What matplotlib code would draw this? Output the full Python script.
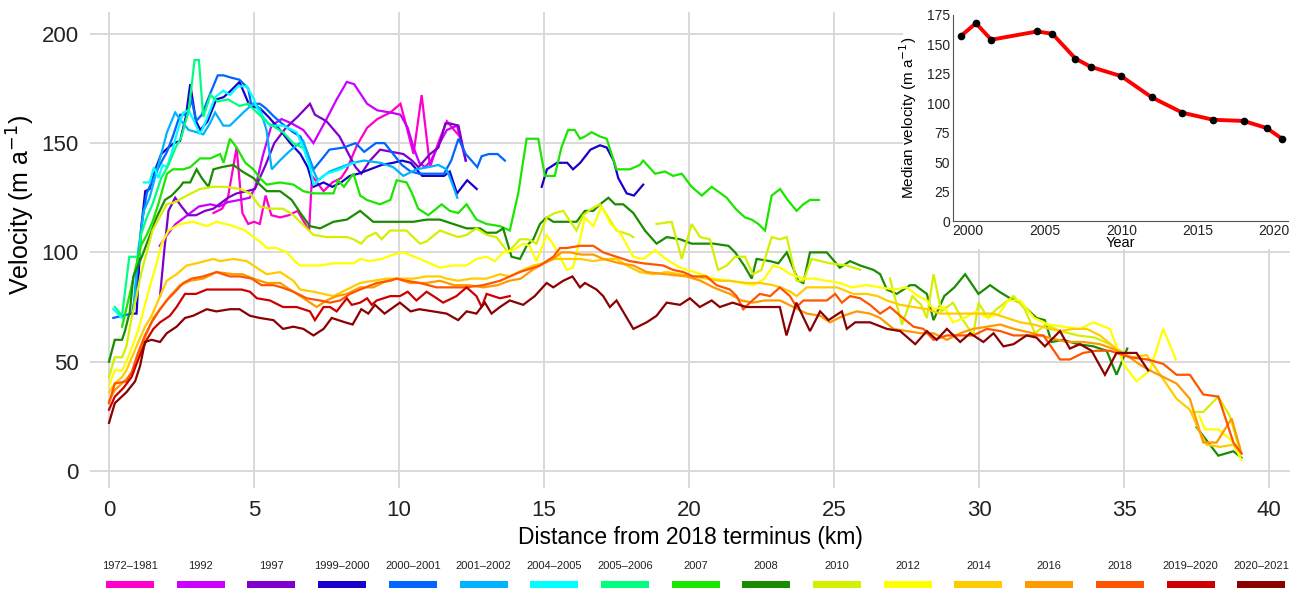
import numpy as np
import matplotlib
matplotlib.use("Agg")
import matplotlib.pyplot as plt
from matplotlib.patches import Rectangle

plt.rcParams['font.family'] = ['Liberation Sans', 'DejaVu Sans']

nan = np.nan

# legend labels and colours (one per survey period)
labels = ['1972–1981', '1992', '1997', '1999–2000', '2000–2001', '2001–2002',
          '2004–2005', '2005–2006', '2007', '2008', '2010', '2012', '2014',
          '2016', '2018', '2019–2020', '2020–2021']
colors = ['#FF00CC', '#CC00FF', '#7F00CC', '#1A00CC', '#0066FF', '#00B3FF',
          '#00FFFF', '#00FF80', '#1AE600', '#1A8C00', '#D4F000', '#FFFF00',
          '#FFCC00', '#FF9900', '#FF5500', '#CC0000', '#8B0000']

# distance from 2018 terminus (km) and velocity (m/a)
d_1972 = [3.6, 3.9, 4.1, 4.4, 4.6, 4.8, 5.0, 5.2, 5.4, 5.6, 5.9, 6.2, 6.5, 6.9, 7.0, 7.4,
          7.7, 8.0, 8.2, 8.55, 8.9, 9.25, 9.7, 10.05, 10.25, 10.5, 10.78, 11.07, 11.35,
          11.65, 11.9, 12.1]
v_1972 = [118, 120, 125, 148, 118, 113, 114, 113, 126, 117, 116, 117, 119, 110, 135, 128,
          132, 134, 138, 149, 157, 161, 164, 168, 158, 145, 172, 139, 150, 160, 156, 153]

d_1992 = [1.75, 2.0, 2.3, 2.7, 3.1, 3.5, 3.8, 4.1, 4.5, 4.85, 5.05, 5.3, 5.6, 5.95, 6.3,
          6.7, 7.05, 7.5, 7.85, 8.2, 8.45, 8.9, 9.25, 9.7, 10.05, 10.3, 10.5, 10.7, 10.9,
          11.1, 11.4, 11.65, 12.0, 12.3]
v_1992 = [103, 108, 113, 117, 121, 122, 121, 123, 124, 125, 130, 144, 158, 161, 159, 156,
          150, 161, 170, 178, 177, 168, 165, 164, 163, 157, 148, 141, 139, 142, 150, 156,
          158, 142]

d_1997 = [1.76, 1.9, 2.05, 2.28, 2.5, 2.74, 3.0, 3.31, 3.6, 4.1, 4.4, 4.75, 5.03, 5.4, 5.7,
          6.1, 6.5, 6.93, 7.1, 7.5, 7.95, 8.3, 8.5, 8.7, 9.0, 9.35, 9.75, 10.15, 10.45,
          10.67, 11.07, 11.36, 11.6, 11.76, 12.05, 12.3]
v_1997 = [80, 100, 119, 125, 121, 117, 117, 119, 120, 125, 127, 128, 129, 140, 150, 157,
          162, 168, 163, 160, 153, 144, 139, 136, 142, 147, 146, 145, 142, 139, 145, 148,
          159, 159, 158, 142]

d_1999 = [0.8, 0.95, 1.0, 1.1, 1.25, 1.4, 1.6, 1.8, 2.05, 2.25, 2.45, 2.65, 2.8, 3.0, 3.15,
          3.4, 3.7, 3.95, 4.2, 4.5, 4.85, 5.2, 5.5, 5.9, 6.25, 6.6, 6.85, 7.05, 7.4, 7.7,
          8.0, 8.3, 8.6, 9.0, 9.4, 9.8, 10.1, 10.4, 10.8, 11.2, 11.55, 11.75, 12.0, 12.35,
          12.68, nan, 14.92, 15.1, 15.45, 15.8, 16.0, 16.25, 16.6, 16.93, 17.16, 17.4,
          17.56, 17.85, 18.1, 18.42]
v_1999 = [72, 72, 84, 110, 128, 129, 138, 145, 148, 150, 151, 162, 177, 160, 156, 160,
          170, 171, 174, 178, 167, 166, 162, 156, 150, 145, 139, 130, 132, 130, 132, 135,
          136, 138, 140, 141, 142, 141, 135, 135, 135, 137, 127, 133, 129, nan, 130, 138,
          141, 141, 138, 141, 147, 149, 148, 142, 134, 127, 126, 131]

d_2000 = [0.15, 0.45, 0.8, 0.9, 1.0, 1.15, 1.3, 1.5, 1.75, 2.0, 2.2, 2.45, 2.7, 2.85, 3.0,
          3.2, 3.5, 3.75, 3.95, 4.2, 4.5, 4.8, 4.9, 5.2, 5.4, 5.7, 6.05, 6.35, 6.6, 6.8,
          7.05, 7.3, 7.6, 8.1, 8.5, 8.8, 9.2, 9.5, 9.8, 10.1, 10.4, 10.7, 11.0, 11.3, 11.55,
          11.8, 12.05, 12.3, 12.7, 12.85, 13.1, 13.4, 13.65]
v_2000 = [70, 71, 72, 80, 95, 115, 127, 133, 140, 146, 153, 163, 163, 170, 160, 163, 173,
          181, 181, 180, 179, 175, 168, 168, 166, 162, 158, 155, 153, 147, 138, 142, 147,
          148, 150, 146, 150, 150, 145, 140, 137, 136, 136, 136, 136, 142, 152, 145, 139,
          144, 145, 145, 142]

d_2001 = [0.85, 1.0, 1.2, 1.4, 1.6, 1.8, 2.0, 2.28, 2.5, 2.75, 3.02, 3.25, 3.48, 3.66,
          3.94, 4.17, 4.63, 4.97, 5.2, 5.43, 5.61, 5.89, 6.2, 6.47, 6.7, 6.99, 7.2, 7.6,
          8.0, 8.4, 8.8, 9.35, 9.8, 10.15, 10.6, 11.0, 11.36, 11.64, 11.82, 12.01]
v_2001 = [75, 100, 119, 125, 135, 145, 155, 164, 160, 156, 155, 154, 159, 164, 158, 158,
          164, 168, 166, 156, 138, 142, 146, 149, 151, 139, 133, 137, 139, 141, 142, 141,
          139, 135, 138, 139, 140, 138, 132, 125]

d_2004 = [0.15, 0.45, nan, 1.2, 1.4, 1.55, 1.7, 1.85, 2.0, 2.15, 2.35, 2.56, 2.75, 2.9,
          3.14, 3.37, 3.66, 3.94, 4.17, 4.45, 4.75, 5.0, 5.1, 5.32, 5.55, 6.0, 6.47, 6.7,
          6.95, 7.05, 7.5, 7.97, 8.43, 8.5]
v_2004 = [74, 70, nan, 132, 132, 139, 134, 140, 139, 145, 155, 164, 165, 161, 154, 161,
          171, 174, 172, 176, 176, 170, 166, 162, 158, 158, 155, 148, 138, 131, 136, 138,
          141, 141]

d_2005 = [0.2, 0.45, 0.7, 1.05, 1.1, 1.3, 1.5, 1.8, 2.05, 2.3, 2.5, 2.75, 2.95, 3.1, 3.25,
          3.5, 3.75, 4.1, 4.5, 4.8, 5.1, 5.5, 6.0, 6.35, 6.65]
v_2005 = [75, 71, 98, 98, 108, 116, 122, 134, 140, 148, 153, 165, 188, 188, 162, 172, 169,
          170, 167, 168, 164, 159, 155, 150, 148]

d_2007 = [0.45, 0.7, 0.9, 1.1, 1.3, 1.5, 1.7, 2.0, 2.2, 2.56, 2.8, 3.14, 3.5, 3.83, 3.95,
          4.17, 4.4, 4.7, 4.98, 5.2, 5.44, 5.9, 6.36, 6.7, 7.05, 7.4, 7.74, 7.9, 8.1, 8.43,
          8.66, 8.89, 9.34, 9.7, 9.92, 10.26, 10.45, 10.66, 11.01, 11.47, 11.75, 12.04,
          12.33, 12.67, 13.02, 13.48, 13.82, 14.11, 14.4, 14.8, 15.03, 15.37, 15.6, 15.83,
          16.06, 16.24, 16.41, 16.64, 16.93, 17.16, 17.5, 17.96, 18.3, 18.42, 18.83, 19.17,
          19.45, 19.75, 20.09, 20.44, 20.78, 21.3, 21.6, 21.93, 22.16, 22.39, 22.62, 22.85,
          23.14, 23.4, 23.71, 23.94, 24.17, 24.48]
v_2007 = [66, 80, 92, 103, 108, 114, 122, 136, 138, 138, 139, 143, 143, 145, 141, 152, 148,
          141, 138, 134, 131, 132, 131, 128, 127, 127, 127, 133, 130, 136, 126, 124, 122,
          124, 133, 132, 127, 120, 117, 122, 119, 118, 122, 115, 113, 112, 110, 127, 152,
          152, 135, 135, 148, 156, 156, 152, 153, 155, 153, 152, 138, 138, 140, 142, 136,
          137, 135, 136, 130, 126, 130, 125, 120, 116, 115, 113, 110, 126, 129, 124, 119,
          122, 124, 124]

d_2008 = [0.0, 0.2, 0.45, 0.55, 0.72, 0.84, 1.13, 1.36, 1.64, 1.93, 2.16, 2.45, 2.56, 2.8,
          3.02, 3.2, 3.43, 3.6, 3.88, 4.29, 4.6, 4.98, 5.2, 5.44, 5.9, 6.3, 6.6, 6.93, 7.28,
          7.74, 8.2, 8.66, 9.11, 9.57, 10.03, 10.5, 10.95, 11.41, 11.87, 12.33, 12.79,
          13.02, 13.36, 13.59, 13.88, 14.17, 14.4, 14.63, 14.86, 15.09, 15.32, 15.78,
          16.12, 16.41, 16.7, 16.93, 17.22, 17.45, 17.73, 18.08, 18.48, 18.88, 19.23,
          19.69, 20.09, 20.44, 20.84, 21.36, 21.59, 21.9, 22.16, 22.33, 22.79, 23.08,
          23.37, 23.77, 23.94, 24.17, 24.75, 25.2, 25.55, 25.9, 26.36, 26.59, 26.82, 27.16,
          27.62, 27.79, 28.2, 28.43, 28.8, 29.15, 29.52, 29.98, 30.38, 30.7, 31.07, 31.42,
          31.98, 32.27, 32.5, 32.9, 33.4, 33.94, 34.4, 34.74, 35.11, nan, 37.5, 37.9, 38.25,
          38.77, 39.05]
v_2008 = [50, 60, 60, 64, 73, 89, 98, 106, 116, 124, 126, 130, 132, 132, 138, 134, 130, 138,
          139, 140, 137, 134, 131, 128, 128, 124, 118, 112, 111, 114, 115, 119, 114, 114,
          114, 114, 115, 115, 113, 111, 111, 109, 109, 111, 98, 97, 103, 106, 113, 116, 114,
          114, 114, 119, 119, 122, 125, 122, 122, 118, 110, 104, 107, 106, 104, 104, 104,
          103, 100, 94, 88, 97, 96, 95, 100, 87, 86, 100, 100, 93, 96, 94, 92, 90, 83, 81,
          85, 85, 81, 69, 80, 84, 90, 81, 85, 82, 79, 77, 70, 69, 59, 60, 58, 57, 55, 44,
          56, nan, 20, 13, 7, 9, 6]

d_2010 = [0.0, 0.2, 0.45, 0.6, 0.75, 0.95, 1.1, 1.3, 1.5, 1.7, 1.99, 2.28, 2.68, 3.14, 3.6,
          4.06, 4.52, 4.86, 5.2, 5.55, 6.0, 6.36, 6.82, 7.05, 7.5, 7.9, 8.2, 8.43, 8.7,
          8.89, 9.2, 9.4, 9.69, 10.26, 10.72, 10.95, 11.41, 12.04, 12.33, 12.67, 13.02,
          13.36, 13.76, 14.17, 14.45, 14.74, 15.09, 15.37, 15.66, 16.12, 16.35, 16.64,
          16.93, 17.5, 17.96, 18.08, nan, 18.88, 19.4, 19.75, 20.09, 20.38, 20.72, 21.0,
          21.3, 21.59, 21.93, 22.2, 22.5, 22.85, 23.14, 23.37, 23.71, 23.94, 24.23, 24.86,
          25.44, 25.9, nan, 26.93, 27.34, 27.7, 28.0, 28.2, 28.43, 28.7, 29.1, 29.4, 29.8,
          29.98, 30.3, 30.6, 31.19, 31.58, 31.93, 32.3, 32.8, 33.4, 34.0, 34.5, 35.0, nan,
          37.33, 37.73, 38.25, 38.65, 39.0]
v_2010 = [43, 52, 52, 57, 68, 80, 90, 100, 110, 115, 122, 123, 126, 129, 130, 130, 129,
          127, 121, 120, 120, 117, 111, 108, 107, 107, 107, 106, 104, 107, 109, 106, 110,
          110, 104, 105, 110, 107, 108, 111, 108, 107, 100, 106, 106, 104, 116, 118, 119,
          110, 117, 120, 122, 110, 108, 107, nan, 113, 114, 97, 113, 107, 106, 92, 94, 98,
          98, 90, 92, 107, 106, 107, 87, 87, 97, 95, 94, 92, nan, 88, 67, 80, 76, 70, 90,
          73, 77, 70, 62, 77, 70, 74, 80, 74, 63, 67, 64, 62, 61, 58, 54, nan, 27, 27, 34,
          25, 9]

d_2012 = [0.0, 0.2, 0.45, 0.6, 0.8, 1.0, 1.2, 1.4, 1.64, 1.82, 2.05, 2.45, 2.9, 3.37, 3.71,
          4.29, 4.7, 4.98, 5.2, 5.44, 5.78, 6.13, 6.4, 6.59, 7.28, 7.74, 8.43, 8.66, 9.0,
          9.4, 9.8, 10.15, 10.72, 11.41, 11.87, 12.33, 12.67, 13.02, 13.3, 13.59, 13.94,
          14.28, 14.5, 14.74, 15.09, 15.3, 15.55, 15.78, 16.0, 16.24, 16.41, 16.7, 16.98,
          17.3, 17.62, 18.08, 18.42, 18.83, 19.2, 19.69, 20.2, 20.84, 21.4, 21.8, 22.22,
          22.6, 22.9, 23.14, 23.5, 23.94, 24.29, 24.75, 25.2, 25.6, 26.13, 26.59, 27.05,
          27.51, 27.9, 28.2, 28.43, 28.8, 29.1, 29.5, 29.9, 30.3, 30.7, 31.0, 31.41, 31.9,
          32.4, 32.9, 33.48, 33.94, 34.51, 34.8, 35.03, 35.43, 35.89, 36.35, 36.79, nan,
          37.6, 37.79, 38.25, 38.7, 39.05]
v_2012 = [39, 46, 46, 50, 57, 64, 74, 84, 95, 104, 110, 113, 114, 112, 114, 112, 110, 107,
          105, 102, 102, 100, 96, 94, 94, 95, 95, 97, 96, 97, 99, 100, 97, 93, 94, 94, 97,
          98, 96, 100, 101, 104, 103, 96, 108, 104, 98, 92, 93, 106, 116, 112, 121, 113,
          109, 98, 97, 101, 97, 93, 91, 88, 87, 86, 85, 88, 94, 93, 90, 88, 88, 87, 86, 84,
          85, 84, 83, 84, 80, 78, 74, 75, 68, 70, 73, 70, 72, 78, 78, 70, 67, 66, 65, 68,
          65, 55, 48, 41, 46, 65, 51, nan, 25, 19, 19, 14, 5]

d_2014 = [0.0, 0.2, 0.45, 0.6, 0.95, 1.24, 1.47, 1.76, 1.99, 2.33, 2.68, 3.02, 3.6, 3.83,
          4.29, 4.75, 5.09, 5.44, 5.9, 6.36, 6.59, 7.05, 7.74, 8.2, 8.66, 9.11, 9.57, 10.03,
          10.5, 10.95, 11.41, 11.64, 12.04, 12.5, 13.02, 13.48, 13.8, 14.28, 14.63, 14.97,
          15.32, 15.78, 16.24, 16.7, 17.16, 17.5, 17.85, 18.3, 18.77, 19.23, 19.69, 20.14,
          20.6, 21.06, 21.41, 21.98, 22.44, 22.9, 23.14, 23.5, 23.71, 24.06, 24.63, 25.1,
          25.67, 26.13, 26.5, 26.82, 27.28, 27.74, 28.2, 28.66, 29.12, 29.58, 30.04, 30.5,
          30.96, 31.42, 31.88, 32.44, 32.8, 33.25, 33.71, 34.17, 34.63, 34.86, 35.3, 35.78,
          36.3, 36.81, 37.27, 37.6, 37.85, 38.31, 38.77, 39.05]
v_2014 = [36, 40, 43, 46, 57, 66, 71, 80, 87, 90, 94, 95, 97, 96, 97, 96, 93, 90, 91, 87,
          83, 82, 80, 83, 86, 87, 88, 88, 88, 89, 89, 88, 87, 88, 88, 90, 89, 92, 94, 95, 97,
          97, 97, 96, 97, 97, 94, 91, 90, 91, 90, 89, 88, 87, 87, 86, 86, 85, 84, 82, 80, 84,
          84, 84, 81, 81, 80, 78, 76, 75, 74, 72, 72, 72, 72, 72, 70, 68, 67, 65, 64, 65, 65,
          62, 57, 54, 52, 53, 43, 33, 28, 18, 12, 11, 12, 8]

d_2016 = [0.0, 0.2, 0.6, 0.84, 1.07, 1.3, 1.53, 1.82, 2.1, 2.45, 2.8, 3.25, 3.71, 4.29, 4.6,
          4.98, 5.44, 5.9, 6.36, 6.82, 7.16, 7.5, 7.85, 8.2, 8.66, 9.11, 9.57, 9.92, 10.38,
          10.95, 11.41, 11.9, 12.4, 12.9, 13.4, 13.8, 14.2, 14.6, 15.0, 15.32, 15.6, 15.9,
          16.3, 16.7, 17.04, 17.62, 18.08, 18.54, 19.2, 19.92, 20.4, 20.84, 21.41, 21.8,
          22.2, 22.6, 23.14, 23.6, 24.06, 24.52, 24.86, 25.32, 25.78, 26.24, 26.59, 27.05,
          27.51, 28.0, 28.43, 28.89, 29.35, 29.8, 30.27, 30.73, 31.2, 31.87, 32.4, 33.02,
          33.6, 34.17, 34.6, 35.09, 35.5, 35.89, 36.35, 36.81, 37.27, 37.73, 38.19, 38.71,
          39.05]
v_2016 = [32, 37, 42, 46, 55, 63, 70, 75, 80, 85, 87, 88, 91, 90, 90, 88, 86, 86, 82, 78,
          75, 78, 80, 81, 84, 84, 87, 88, 86, 86, 87, 85, 85, 84, 85, 87, 88, 92, 95, 97, 100,
          100, 99, 99, 97, 95, 94, 91, 90, 89, 87, 84, 81, 78, 77, 78, 78, 75, 72, 71, 68, 71,
          73, 72, 70, 65, 64, 63, 63, 60, 63, 65, 66, 67, 65, 63, 61, 59, 59, 58, 56, 53, 49,
          46, 43, 40, 33, 13, 13, 24, 8]

d_2018 = [0.0, 0.2, 0.6, 0.78, 1.0, 1.24, 1.47, 1.76, 1.99, 2.28, 2.56, 2.85, 3.25, 3.71,
          4.17, 4.52, 4.92, 5.26, 5.67, 5.95, 6.36, 6.82, 7.28, 7.62, 7.97, 8.31, 8.66,
          9.23, 9.69, 9.92, 10.26, 10.72, 11.3, 11.76, 12.3, 12.9, 13.48, 14.17, 14.86,
          15.32, 15.55, 15.78, 16.24, 16.7, 17.04, 17.5, 17.96, 18.42, 19.11, 19.45, 19.8,
          20.14, 20.6, 20.95, 21.41, 21.64, 21.87, 22.1, 22.44, 22.8, 23.13, 23.48, 23.71,
          23.94, 24.29, 24.75, 25.04, 25.27, 25.55, 25.9, 26.24, 26.59, 26.93, 27.28,
          27.74, 28.08, 28.43, 28.89, 29.35, 29.8, 30.27, 30.73, 31.19, 31.65, 32.22,
          32.79, 33.13, 33.59, 34.05, 34.51, 35.2, 35.8, 36.35, 36.81, 37.27, 37.73, 38.25,
          38.5, 38.77, 39.05]
v_2018 = [31, 40, 41, 45, 54, 62, 68, 74, 78, 82, 86, 88, 89, 91, 89, 89, 88, 85, 85, 84,
          82, 79, 78, 77, 78, 81, 83, 86, 87, 88, 87, 86, 84, 84, 84, 85, 87, 91, 94, 98, 102,
          102, 103, 103, 100, 98, 96, 95, 94, 92, 91, 89, 89, 85, 83, 80, 74, 77, 81, 80, 84,
          80, 75, 78, 78, 78, 81, 77, 80, 79, 76, 72, 75, 71, 66, 65, 60, 62, 62, 62, 65, 64,
          62, 62, 62, 51, 51, 54, 55, 55, 52, 51, 49, 44, 44, 35, 34, 24, 13, 8]

d_2019 = [0.0, 0.2, 0.5, 0.78, 0.95, 1.13, 1.3, 1.53, 1.76, 2.1, 2.33, 2.62, 3.0, 3.37,
          3.83, 4.29, 4.57, 4.86, 5.1, 5.55, 6.0, 6.47, 6.93, 7.1, 7.4, 7.62, 7.85, 8.2,
          8.37, 8.66, 8.9, 9.06, 9.23, 9.7, 10.03, 10.3, 10.6, 10.95, 11.3, 11.52, 11.98,
          12.33, 12.67, 12.85, 13.02, 13.48, 13.82]
v_2019 = [28, 34, 38, 43, 49, 55, 60, 65, 68, 71, 75, 81, 81, 83, 83, 83, 83, 82, 79, 78,
          75, 75, 73, 69, 75, 75, 73, 79, 76, 77, 79, 76, 78, 80, 80, 82, 78, 82, 79, 77, 80,
          84, 80, 75, 81, 79, 80]

d_2020 = [0.0, 0.2, 0.6, 0.9, 1.07, 1.24, 1.47, 1.76, 1.99, 2.33, 2.62, 2.9, 3.37, 3.7,
          4.17, 4.5, 4.86, 5.2, 5.67, 6.0, 6.36, 6.7, 7.05, 7.4, 7.68, 8.14, 8.4, 8.7, 8.94,
          9.17, 9.5, 10.03, 10.4, 10.7, 11.18, 11.64, 12.04, 12.33, 12.67, 12.96, 13.19,
          13.48, 13.82, 14.28, 14.68, 15.09, 15.32, 15.66, 15.98, 16.24, 16.41, 16.81,
          17.04, 17.27, 17.5, 18.08, 18.54, 18.88, 19.23, 19.69, 20.03, 20.37, 20.78,
          21.06, 21.5, 21.98, 22.44, 23.13, 23.36, 23.7, 24.17, 24.52, 24.81, 25.27, 25.44,
          25.73, 26.24, 26.82, 27.28, 27.8, 28.2, 28.54, 28.89, 29.35, 29.69, 30.15, 30.5,
          30.84, 31.19, 31.64, 31.98, 32.27, 32.79, 33.13, 33.48, 33.88, 34.34, 34.74, 35.1,
          35.43, 35.83]
v_2020 = [22, 31, 36, 41, 48, 59, 60, 59, 63, 66, 70, 71, 74, 73, 74, 74, 71, 70, 69, 65,
          66, 65, 62, 65, 70, 68, 67, 74, 72, 76, 72, 77, 73, 74, 73, 72, 69, 73, 72, 77, 72,
          75, 78, 76, 80, 86, 84, 87, 89, 84, 86, 83, 80, 75, 78, 65, 68, 71, 77, 76, 79, 75,
          78, 75, 77, 75, 75, 75, 62, 77, 64, 73, 69, 73, 65, 68, 68, 65, 64, 58, 64, 60, 65,
          59, 63, 59, 63, 57, 58, 62, 61, 57, 64, 56, 58, 55, 44, 54, 54, 54, 46]

dist = [d_1972, d_1992, d_1997, d_1999, d_2000, d_2001, d_2004, d_2005, d_2007, d_2008,
        d_2010, d_2012, d_2014, d_2016, d_2018, d_2019, d_2020]
vel = [v_1972, v_1992, v_1997, v_1999, v_2000, v_2001, v_2004, v_2005, v_2007, v_2008,
       v_2010, v_2012, v_2014, v_2016, v_2018, v_2019, v_2020]

# inset: median velocity per survey
med_years = [1999.5, 2000.5, 2001.5, 2004.5, 2005.5, 2007, 2008, 2010, 2012, 2014, 2016,
             2018, 2019.5, 2020.5]
med_vel = [157, 168, 154, 161, 159, 138, 131, 123, 105, 92, 86, 85, 79, 70]

fig = plt.figure(figsize=(12.95, 5.9), dpi=100)
ax = fig.add_axes([0.0695, 0.1729, 0.9266, 0.8068])

for d, v, c in zip(dist, vel, colors):
    ax.plot(d, v, color=c, lw=1.6, solid_joinstyle='miter')

ax.set_xlim(-0.655, 40.72)
ax.set_ylim(-7.8, 210)
ax.set_xticks([0, 5, 10, 15, 20, 25, 30, 35, 40])
ax.set_yticks([0, 50, 100, 150, 200])
ax.grid(True, color='#d9d9d9', lw=1.4)
ax.set_axisbelow(True)
for s in ax.spines.values():
    s.set_visible(False)
ax.tick_params(axis='both', length=0, labelsize=16, colors='#222222')
ax.tick_params(axis='x', pad=9)
ax.tick_params(axis='y', pad=8)
ax.set_xlabel('Distance from 2018 terminus (km)', fontsize=16.5, labelpad=3)
ax.set_ylabel('Velocity (m a$^{-1}$)', fontsize=18)
ax.yaxis.set_label_coords(-0.044, 0.595)

# white panel behind the inset
fig.add_artist(Rectangle((903 / 1295, 1 - 249 / 590), 1, 1, transform=fig.transFigure,
                         facecolor='white', edgecolor='none', zorder=1))

ins = fig.add_axes([0.7359, 0.6254, 0.2587, 0.3492], zorder=2)
ins.plot(med_years, med_vel, color='#FF0000', lw=2.8, zorder=2)
ins.plot(med_years, med_vel, 'o', color='black', ms=4.5, zorder=3)
ins.set_xlim(1999.0, 2020.9)
ins.set_ylim(0, 175)
ins.set_xticks([2000, 2005, 2010, 2015, 2020])
ins.set_yticks([0, 25, 50, 75, 100, 125, 150, 175])
ins.spines['top'].set_visible(False)
ins.spines['right'].set_visible(False)
ins.spines['left'].set_color('#555555')
ins.spines['bottom'].set_color('#555555')
ins.tick_params(axis='both', length=0, labelsize=10, colors='#222222', pad=2)
ins.set_xlabel('Year', fontsize=10.5, labelpad=-1)
ins.set_ylabel('Median velocity (m a$^{-1}$)', fontsize=11, labelpad=6)

# legend along the bottom: label above a colour bar
for i, (lab, c) in enumerate(zip(labels, colors)):
    xc = (130 + i * 70.7) / 1295
    fig.text(xc, 1 - 566 / 590, lab, ha='center', va='center', fontsize=8,
             color='#222222')
    fig.add_artist(Rectangle((xc - 24 / 1295, 1 - 588 / 590), 48 / 1295, 7 / 590,
                             transform=fig.transFigure, facecolor=c, edgecolor='none'))

fig.savefig('out.png', dpi=100)
